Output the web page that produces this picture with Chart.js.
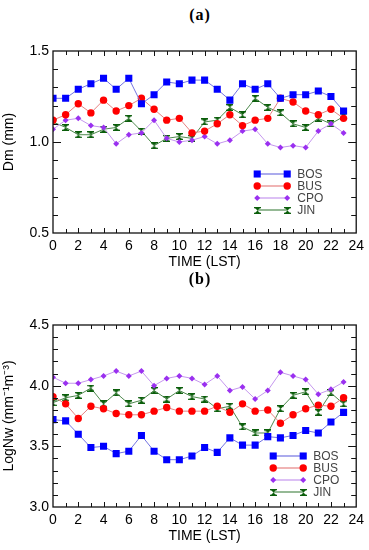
<!DOCTYPE html>
<html>
<head>
<meta charset="utf-8">
<script src="https://cdn.jsdelivr.net/npm/chart.js@4.4.1/dist/chart.umd.min.js"></script>
<style>
  body { margin: 0; background: #fff; width: 369px; height: 550px; position: relative; overflow: hidden; }
  .panel { position: absolute; left: 0; }
  .tag { position: absolute; left: 0; width: 400px; text-align: center; font: bold 16px "Liberation Serif", serif; letter-spacing: 1px; color: #000; }
</style>
</head>
<body>
<div class="tag" style="top:6px">(a)</div>
<canvas id="dmChart" class="panel" style="top:0" width="369" height="275"></canvas>
<div class="tag" style="top:270px">(b)</div>
<canvas id="nwChart" class="panel" style="top:275px" width="369" height="275"></canvas>

<script>
// hours of the day (LST)
const hours = [0, 1, 2, 3, 4, 5, 6, 7, 8, 9, 10, 11, 12, 13, 14, 15, 16, 17, 18, 19, 20, 21, 22, 23];
const stations = ['BOS', 'BUS', 'CPO', 'JIN'];

// (a) Dm (mm)
const dmBOS = [1.24, 1.24, 1.29, 1.32, 1.35, 1.29, 1.35, 1.21, 1.26, 1.33, 1.32, 1.34, 1.34, 1.29, 1.23, 1.32, 1.29, 1.32, 1.24, 1.26, 1.26, 1.28, 1.25, 1.17];
const dmBUS = [1.12, 1.15, 1.21, 1.16, 1.23, 1.17, 1.20, 1.24, 1.18, 1.12, 1.13, 1.05, 1.06, 1.10, 1.15, 1.09, 1.12, 1.13, 1.24, 1.22, 1.17, 1.15, 1.18, 1.13];
const dmCPO = [1.07, 1.12, 1.13, 1.09, 1.08, 0.99, 1.04, 1.05, 1.12, 1.02, 1.00, 1.01, 1.03, 0.99, 1.01, 1.06, 1.07, 0.99, 0.97, 0.98, 0.97, 1.06, 1.10, 1.05];
const dmJIN = [1.11, 1.08, 1.04, 1.04, 1.07, 1.08, 1.13, 1.06, 0.98, 1.02, 1.03, 1.02, 1.11, 1.12, 1.19, 1.15, 1.24, 1.19, 1.16, 1.10, 1.08, 1.13, 1.10, 1.14];

// (b) LogNw
const nwBOS = [3.72, 3.71, 3.60, 3.49, 3.50, 3.44, 3.46, 3.59, 3.46, 3.39, 3.39, 3.42, 3.49, 3.45, 3.57, 3.51, 3.51, 3.58, 3.57, 3.59, 3.63, 3.61, 3.70, 3.78];
const nwBUS = [3.91, 3.85, 3.73, 3.83, 3.81, 3.77, 3.76, 3.76, 3.79, 3.82, 3.79, 3.79, 3.79, 3.83, 3.78, 3.85, 3.79, 3.80, 3.69, 3.76, 3.81, 3.84, 3.83, 3.90];
const nwCPO = [4.07, 4.02, 4.02, 4.05, 4.08, 4.12, 4.08, 4.12, 4.00, 4.06, 4.08, 4.06, 4.01, 4.08, 3.96, 3.99, 3.89, 3.96, 4.11, 4.08, 4.05, 3.93, 3.97, 4.03];
const nwJIN = [3.86, 3.90, 3.92, 3.98, 3.85, 3.94, 3.85, 3.88, 3.96, 3.89, 3.96, 3.91, 3.89, 3.81, 3.83, 3.66, 3.61, 3.61, 3.81, 3.92, 3.95, 3.78, 3.94, 3.85];

// hourglass marker for JIN
const hourglass = document.createElement('canvas');
hourglass.width = 7; hourglass.height = 7;
(function () {
  const c = hourglass.getContext('2d');
  c.fillStyle = '#0b5e0b';
  c.beginPath();
  c.moveTo(0.5, 0.5); c.lineTo(6.5, 0.5); c.lineTo(3.5, 3.5); c.closePath();
  c.moveTo(0.5, 6.5); c.lineTo(6.5, 6.5); c.lineTo(3.5, 3.5); c.closePath();
  c.fill();
  c.fillRect(0, 0, 7, 1.3);
  c.fillRect(0, 5.7, 7, 1.3);
})();

const styles = {
  BOS: { line: '#7474e2', mark: '#0000ff', point: 'rect', radius: 5 },
  BUS: { line: '#e68282', mark: '#ff0000', point: 'circle', radius: 3.7 },
  CPO: { line: '#c597ee', mark: '#9a30f0', point: 'rectRot', radius: 3 },
  JIN: { line: '#4f8a4f', mark: '#0b5e0b', point: hourglass, radius: 4 }
};

const font = '"Liberation Sans", Arial, sans-serif';

function drawMarker(ctx, st, x, y) {
  ctx.save();
  ctx.fillStyle = st.mark;
  if (st.point === 'rect') {
    const s = st.radius * Math.SQRT1_2;
    ctx.fillRect(x - s, y - s, 2 * s, 2 * s);
  } else if (st.point === 'circle') {
    ctx.beginPath(); ctx.arc(x, y, st.radius, 0, Math.PI * 2); ctx.fill();
  } else if (st.point === 'rectRot') {
    const r = st.radius;
    ctx.beginPath();
    ctx.moveTo(x, y - r); ctx.lineTo(x + r, y); ctx.lineTo(x, y + r); ctx.lineTo(x - r, y);
    ctx.closePath(); ctx.fill();
  } else {
    ctx.drawImage(st.point, Math.round(x - 3.5), Math.round(y - 3.5));
  }
  ctx.restore();
}

// box round the plot with inward ticks on all four sides
const framePlugin = {
  id: 'frame',
  afterDatasetsDraw(chart) {
    const { ctx, chartArea: a, scales: { x, y } } = chart;
    ctx.save();
    ctx.strokeStyle = '#111';
    ctx.lineWidth = 1.3;
    ctx.strokeRect(a.left, a.top, a.right - a.left, a.bottom - a.top);
    ctx.lineWidth = 1;
    ctx.beginPath();
    for (let h = 1; h < 24; h++) {
      const px = Math.round(x.getPixelForValue(h)) + 0.5;
      const len = h % 2 === 0 ? 5 : 4;
      ctx.moveTo(px, a.bottom); ctx.lineTo(px, a.bottom - len);
      ctx.moveTo(px, a.top); ctx.lineTo(px, a.top + len);
    }
    for (let v = y.min + 0.1; v < y.max - 0.05; v += 0.1) {
      const py = Math.round(y.getPixelForValue(v)) + 0.5;
      const len = Math.abs(v * 2 - Math.round(v * 2)) < 0.01 ? 8 : 5;
      ctx.moveTo(a.left, py); ctx.lineTo(a.left + len, py);
      ctx.moveTo(a.right, py); ctx.lineTo(a.right - len, py);
    }
    ctx.stroke();
    ctx.restore();
  }
};

// legend inside the lower right corner of the plot
const boxLegend = {
  id: 'boxLegend',
  afterDatasetsDraw(chart, args, opts) {
    const { ctx, chartArea: a } = chart;
    ctx.save();
    ctx.font = '12px ' + font;
    ctx.textBaseline = 'middle';
    ctx.textAlign = 'left';
    stations.forEach((name, i) => {
      const st = styles[name];
      const yy = a.bottom - opts.bottom + i * 12;
      const x0 = a.right - opts.right;
      ctx.strokeStyle = st.line;
      ctx.lineWidth = 1.2;
      ctx.beginPath(); ctx.moveTo(x0, yy); ctx.lineTo(x0 + 30, yy); ctx.stroke();
      drawMarker(ctx, st, x0, yy);
      drawMarker(ctx, st, x0 + 30, yy);
      ctx.fillStyle = '#444';
      ctx.fillText(name, x0 + 40, yy + 1);
    });
    ctx.restore();
  }
};

function makeChart(id, values, yMin, yMax, yTitle, pad, legendPos) {
  const datasets = stations.map((name, i) => ({
    label: name,
    data: hours.map((h, j) => ({ x: h, y: values[i][j] })),
    borderColor: styles[name].line,
    backgroundColor: styles[name].mark,
    borderWidth: 1,
    pointStyle: styles[name].point,
    pointRadius: styles[name].radius,
    pointBorderWidth: 0,
    pointBackgroundColor: styles[name].mark,
    tension: 0
  }));

  return new Chart(document.getElementById(id), {
    type: 'line',
    data: { datasets },
    options: {
      responsive: false,
      animation: false,
      devicePixelRatio: 1,
      layout: { padding: { top: pad[0], right: 12, bottom: pad[1], left: 0 } },
      plugins: {
        legend: { display: false },
        tooltip: { enabled: false },
        boxLegend: legendPos
      },
      scales: {
        x: {
          type: 'linear', min: 0, max: 24,
          grid: { display: false, drawTicks: false },
          border: { display: false },
          ticks: { stepSize: 2, padding: 5, color: '#000', maxRotation: 0, autoSkip: false,
                   font: { family: font, size: 14 } },
          title: { display: true, text: 'TIME (LST)', color: '#000', padding: 0,
                   font: { family: font, size: 14 } },
          afterFit(s) { s.height = 38; }
        },
        y: {
          min: yMin, max: yMax,
          grid: { display: false, drawTicks: false },
          border: { display: false },
          ticks: { stepSize: 0.5, padding: 4, color: '#000', callback: v => v.toFixed(1),
                   font: { family: font, size: 14 } },
          title: { display: true, text: yTitle, color: '#000', padding: { top: 1, bottom: 0 },
                   font: { family: font, size: 14 } },
          afterFit(s) { s.width = 53; }
        }
      }
    },
    plugins: [framePlugin, boxLegend]
  });
}

makeChart('dmChart', [dmBOS, dmBUS, dmCPO, dmJIN], 0.5, 1.5, 'Dm (mm)', [51, 4], { right: 99, bottom: 59 });
makeChart('nwChart', [nwBOS, nwBUS, nwCPO, nwJIN], 3.0, 4.5, 'LogNw (mm\u207B\u00B9m\u207B\u00B3)', [50, 5], { right: 83, bottom: 51 });
</script>
</body>
</html>
